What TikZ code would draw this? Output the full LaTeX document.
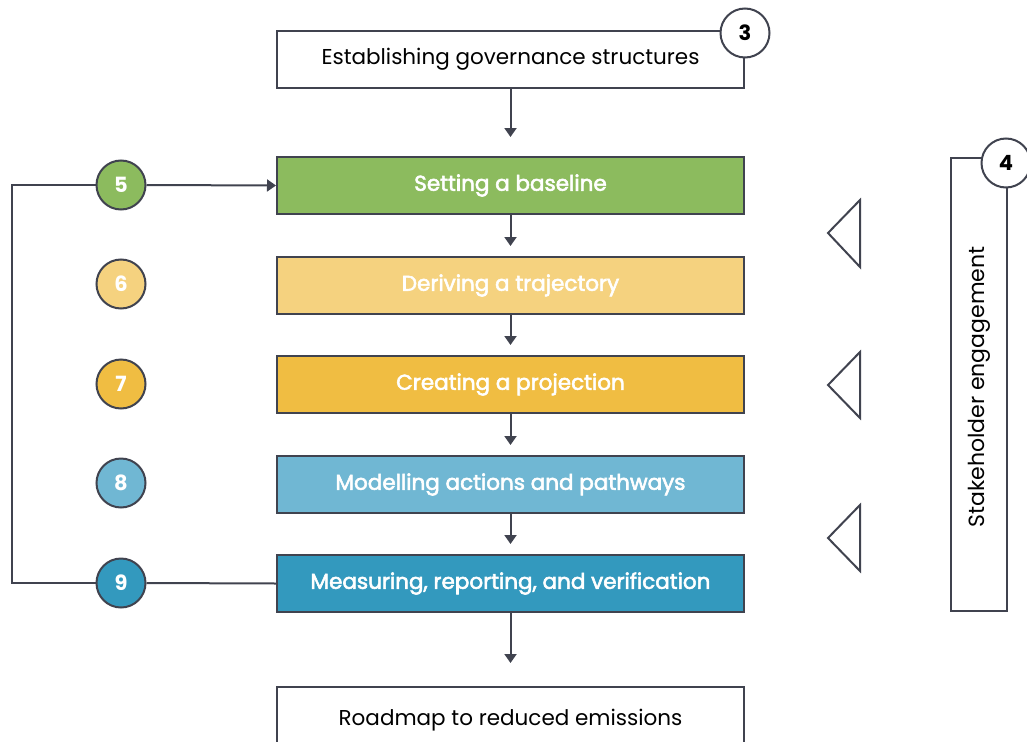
\documentclass[tikz,border=0pt]{standalone}
\usepackage{fontspec}
\setmainfont{Poppins}
\newfontfamily\semib[FakeBold=2.6]{Poppins}
\usetikzlibrary{arrows.meta}
\definecolor{linec}{HTML}{40434F}
\definecolor{cgreen}{HTML}{8CBB5E}
\definecolor{cyellow}{HTML}{F5D27F}
\definecolor{cgold}{HTML}{F0BD42}
\definecolor{clblue}{HTML}{70B7D3}
\definecolor{cblue}{HTML}{3399BE}
\tikzset{
  stepbox/.style={draw=linec, line width=2pt, minimum width=467pt, minimum height=57pt, inner sep=0pt, anchor=north west, font=\fontsize{21.5}{24}\selectfont},
  colbox/.style={stepbox, text=white, font=\fontsize{21.5}{24}\selectfont\semib},
  numc/.style={circle, draw=linec, line width=2pt, minimum size=49pt, inner sep=0pt, font=\fontsize{21}{22}\selectfont\bfseries},
  conn/.style={draw=linec, line width=2pt},
  arr/.style={conn, -{Triangle[width=12pt,length=9pt]}},
  tri/.style={draw=linec, line width=2pt, line join=miter}
}
\begin{document}
\begin{tikzpicture}[x=1pt,y=-1pt]
\useasboundingbox (0,0) rectangle (1027,741);
% boxes
\node[stepbox, fill=white] (gov) at (276,30) {\raisebox{-2pt}{Establishing governance structures}};
\node[colbox, fill=cgreen] (base) at (276,156) {Setting a baseline};
\node[colbox, fill=cyellow] (traj) at (276,256) {Deriving a trajectory};
\node[colbox, fill=cgold] (proj) at (276,355) {Creating a projection};
\node[colbox, fill=clblue] (model) at (276,455) {Modelling actions and pathways};
\node[colbox, fill=cblue] (mrv) at (276,554) {Measuring, reporting, and verification};
\node[stepbox, fill=white, minimum height=70pt] (road) at (276,686) {\raisebox{10pt}{Roadmap to reduced emissions}};
% number circles
\node[numc, fill=white] (c3) at (745,33) {3};
\node[numc, fill=cgreen, text=white] (c5) at (121,185) {5};
\node[numc, fill=cyellow, text=white] (c6) at (121,284) {6};
\node[numc, fill=cgold, text=white] (c7) at (121,384) {7};
\node[numc, fill=clblue, text=white] (c8) at (121,483) {8};
\node[numc, fill=cblue, text=white] (c9) at (121,583) {9};
% stakeholder box
\node[draw=linec, line width=2pt, minimum width=56pt, minimum height=453pt, inner sep=0pt, anchor=north west, fill=white] (stake) at (950,157) {};
\node[rotate=90, font=\fontsize{22}{24}\selectfont] (staketext) at (979,387) {Stakeholder engagement};
\node[numc, fill=white] (c4) at (1006,163) {4};
% arrows down
\draw[arr, shorten >=19pt] (gov.south) -- (base.north);
\draw[arr, shorten >=10pt] (base.south) -- (traj.north);
\draw[arr, shorten >=10pt] (traj.south) -- (proj.north);
\draw[arr, shorten >=10pt] (proj.south) -- (model.north);
\draw[arr, shorten >=10pt] (model.south) -- (mrv.north);
\draw[arr, shorten >=23pt] (mrv.south) -- (road.north);
% loop
\coordinate (lc) at (12,583);
\draw[conn] (mrv.west) -- (c9.east);
\draw[conn] (c9.west) -- (lc) |- (c5.west);
\draw[arr] (c5.east) -- (base.west);
% triangles
\draw[tri] (860,200) -- (828,233) -- (860,267) -- cycle;
\draw[tri] (860,352) -- (828,385) -- (860,418) -- cycle;
\draw[tri] (860,505) -- (828,538) -- (860,571) -- cycle;
\end{tikzpicture}
\end{document}
